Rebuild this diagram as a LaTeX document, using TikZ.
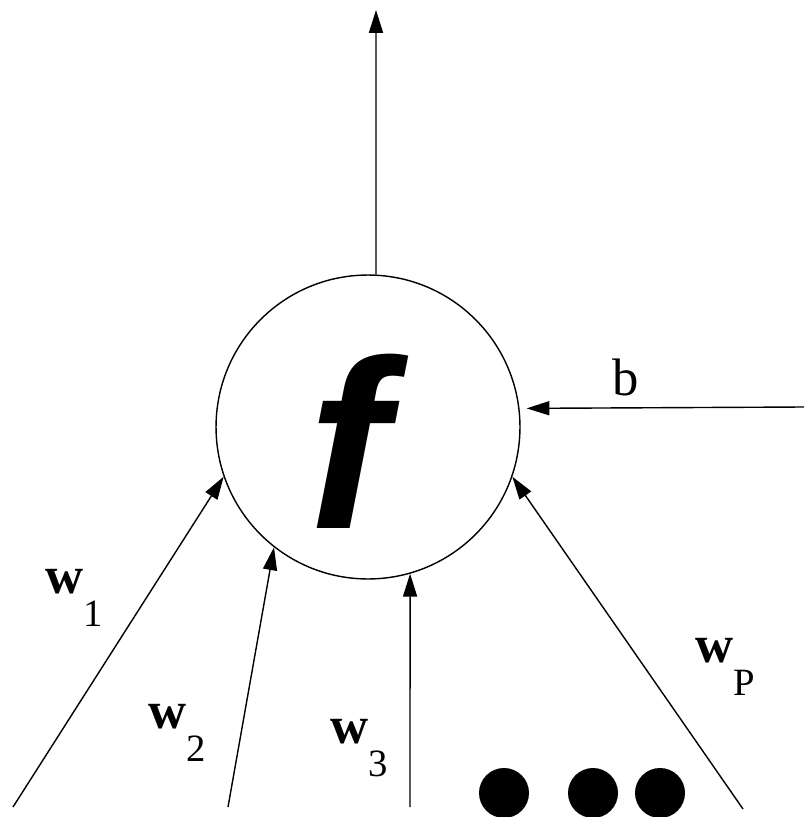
\documentclass[tikz,border=0pt]{standalone}
\usepackage{fontspec}
\setmainfont{Liberation Serif}
\setsansfont{Liberation Sans}
\usetikzlibrary{arrows.meta, positioning, calc}

\tikzset{
  wire/.style={line width=0.8pt, -{Triangle[length=13pt, width=8pt]}},
  dotnode/.style={circle, fill=black, inner sep=0pt, minimum size=1cm},
  wlabel/.style={anchor=base west, inner sep=0pt,
                 font=\fontsize{30}{30}\selectfont\bfseries},
}
\newcommand{\wsub}[1]{\raisebox{-19pt}{\fontsize{22}{22}\mdseries\selectfont #1}}

\begin{document}
\begin{tikzpicture}[x=0.02cm, y=-0.02cm]
  \useasboundingbox (0,0) rectangle (804,817);

  % neuron
  \node[draw, circle, line width=0.8pt, minimum size=6.08cm, inner sep=0pt,
        label={[font=\fontsize{137}{137}\sffamily\bfseries\itshape\selectfont,
                xshift=-0.38cm, yshift=-0.28cm]center:f}] (neuron) at (368,427) {};

  % free ends
  \coordinate (out)  at (376,10);
  \coordinate (bias) at (804,407);
  \coordinate (in1)  at (13,807);
  \coordinate (in2)  at (228,807);
  \coordinate (in3)  at (410,807);
  \coordinate (inp)  at (743,809);

  \draw[wire] (neuron.87) -- (out);
  \draw[wire, shorten >=0.14cm] (bias) -- (neuron.7);
  \draw[wire] (in1) -- (neuron.199.5);
  \draw[wire] (in2) -- (neuron.232.6);
  \draw[wire] (in3) -- (neuron.-74);
  \draw[wire] (inp) -- (neuron.-19.6);

  % labels
  \node[wlabel] (w1) at (45,593)  {w\wsub{1}};
  \node[wlabel] (w2) at (148,728) {w\wsub{2}};
  \node[wlabel] (w3) at (330,743) {w\wsub{3}};
  \node[wlabel] (wp) at (695,662) {w\wsub{P}};
  \node[anchor=base west, inner sep=0pt, font=\fontsize{30}{30}\selectfont] (b) at (612,395) {b};

  % more inputs
  \foreach \x/\n in {504/1, 593/2, 660/3}
    \node[dotnode] (dot\n) at (\x,793) {};
\end{tikzpicture}
\end{document}
